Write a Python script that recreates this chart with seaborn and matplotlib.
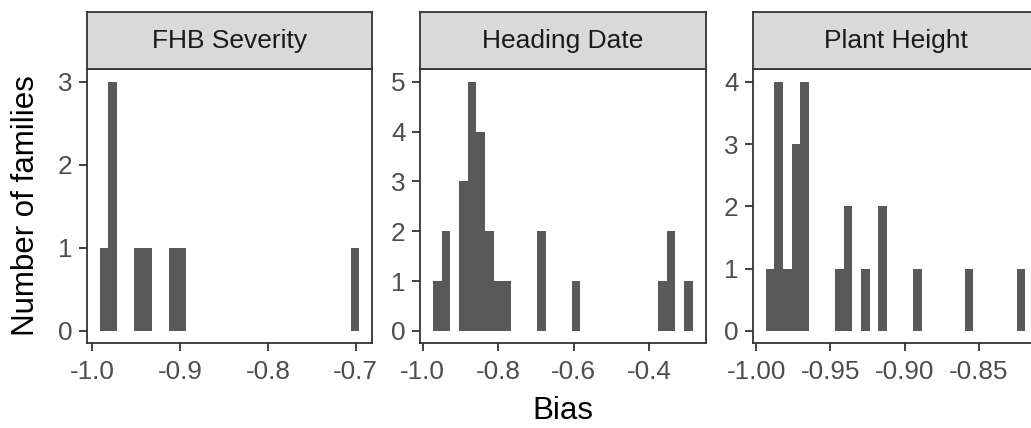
import numpy as np
import pandas as pd
import matplotlib
matplotlib.use("Agg")
import matplotlib.pyplot as plt
import seaborn as sns
from matplotlib.ticker import FixedLocator, FixedFormatter

sns.set_theme(style="white")
plt.rcParams['font.family'] = ['Liberation Sans', 'DejaVu Sans']

# ---- data (30-bin histograms per trait) ----
traits = ["FHB Severity", "Heading Date", "Plant Height"]

fhb_counts = [1, 3, 0, 0, 1, 1, 0, 0, 1, 1, 0, 0, 0, 0, 0,
              0, 0, 0, 0, 0, 0, 0, 0, 0, 0, 0, 0, 0, 0, 1]
fhb_range = (-0.9917, -0.6959)

hd_counts = [1, 2, 0, 3, 5, 4, 2, 1, 1, 0, 0, 0, 2, 0, 0,
             0, 1, 0, 0, 0, 0, 0, 0, 0, 0, 0, 1, 2, 0, 1]
hd_range = (-0.9725, -0.2852)

ph_counts = [1, 4, 1, 3, 4, 0, 0, 0, 1, 2, 0, 1, 0, 2, 0,
             0, 0, 1, 0, 0, 0, 0, 0, 1, 0, 0, 0, 0, 0, 1]
ph_range = (-0.99356, -0.8188)

xticks = [[-1.0, -0.9, -0.8, -0.7], [-1.0, -0.8, -0.6, -0.4], [-1.00, -0.95, -0.90, -0.85]]
xticklabels = [["-1.0", "-0.9", "-0.8", "-0.7"], ["-1.0", "-0.8", "-0.6", "-0.4"],
               ["-1.00", "-0.95", "-0.90", "-0.85"]]
yticks = [[0, 1, 2, 3], [0, 1, 2, 3, 4, 5], [0, 1, 2, 3, 4]]

x_label = "Bias"
y_label = "Number of families"

panels = [(fhb_counts, fhb_range), (hd_counts, hd_range), (ph_counts, ph_range)]

# ---- figure ----
W, H = 1031, 428
fig = plt.figure(figsize=(W / 100, H / 100), dpi=100)

BAR = "#595959"
EDGE = "#333333"
TICKC = "#4D4D4D"
FS_TICK = 18.8
FS_STRIP = 19
FS_TITLE = 22.5

lefts = [86.7, 420.0, 752.7]
pw = 285.7
p_top, p_bot = 69.3, 343.3
s_top = 12.3

for i, (counts, rng) in enumerate(panels):
    lo, hi = rng
    nb = len(counts)
    width = (hi - lo) / nb
    centers = lo + width * (np.arange(nb) + 0.5)
    df = pd.DataFrame({"bias": centers, "n": counts})

    ax = fig.add_axes([lefts[i] / W, (H - p_bot) / H, pw / W, (p_bot - p_top) / H])
    sns.histplot(data=df, x="bias", weights="n", bins=nb, binrange=(lo, hi),
                 color=BAR, alpha=1, edgecolor="none", linewidth=0, ax=ax)
    rngw = hi - lo
    ax.set_xlim(lo - 0.05 * rngw, hi + 0.05 * rngw)
    ymax = max(counts)
    ax.set_ylim(-0.05 * ymax, ymax * 1.05)
    ax.xaxis.set_major_locator(FixedLocator(xticks[i]))
    ax.xaxis.set_major_formatter(FixedFormatter(xticklabels[i]))
    ax.yaxis.set_major_locator(FixedLocator(yticks[i]))
    ax.set_yticklabels([str(v) for v in yticks[i]])
    ax.set_xlabel("")
    ax.set_ylabel("")
    ax.set_facecolor("white")
    for s in ax.spines.values():
        s.set_color(EDGE)
        s.set_linewidth(1.3)
        s.set_visible(True)
    ax.tick_params(axis="both", which="major", length=5.8, width=1.3, color=EDGE,
                   labelsize=FS_TICK, labelcolor=TICKC, pad=4.5,
                   bottom=True, left=True, top=False, right=False)
    ax.tick_params(axis="x", pad=6)
    ax.grid(False)

    # facet strip
    sax = fig.add_axes([lefts[i] / W, (H - p_top) / H, pw / W, (p_top - s_top) / H])
    sax.set_facecolor("#D9D9D9")
    sax.set_xticks([])
    sax.set_yticks([])
    for s in sax.spines.values():
        s.set_color(EDGE)
        s.set_linewidth(1.3)
        s.set_visible(True)
    sax.text(0.5, 0.5, traits[i], ha="center", va="center", fontsize=FS_STRIP,
             color="#1A1A1A", transform=sax.transAxes)

fig.text(562.5 / W, 1 - 411 / H, x_label, ha="center", va="center", fontsize=FS_TITLE, color="black")
fig.text(26 / W, 1 - 206 / H, y_label, ha="center", va="center", rotation=90,
         fontsize=FS_TITLE, color="black")

fig.savefig("out.png", dpi=100, facecolor="white")
